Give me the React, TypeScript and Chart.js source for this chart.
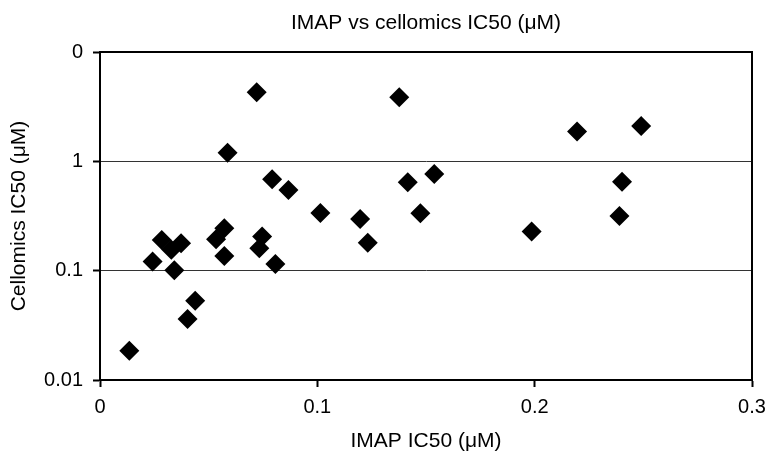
import React, { useEffect, useRef } from 'react';
import { Chart, registerables } from 'chart.js';

Chart.register(...registerables);

const imapIC50 = [
  0.0135, 0.0242, 0.0284, 0.0373, 0.0328, 0.0342, 0.0438, 0.0403, 0.0587, 0.0792,
  0.0867, 0.0572, 0.0534, 0.0572, 0.0746, 0.0733, 0.0807, 0.0721, 0.1377, 0.1416,
  0.1538, 0.1197, 0.1474, 0.1232, 0.1014, 0.2195, 0.249, 0.2402, 0.239, 0.1986,
];
const cellomicsIC50 = [
  0.0185, 0.121, 0.191, 0.178, 0.155, 0.101, 0.0531, 0.0361, 1.2, 0.686,
  0.547, 0.244, 0.194, 0.136, 0.205, 0.16, 0.115, 4.29, 3.86, 0.644,
  0.767, 0.297, 0.335, 0.18, 0.337, 1.87, 2.11, 0.652, 0.317, 0.228,
];
const xTickValues = [0, 0.1, 0.2, 0.3];
const xTickLabels = ['0', '0.1', '0.2', '0.3'];
const yTickValues = [0.01, 0.1, 1, 10];
const yTickLabels = ['0.01', '0.1', '1', '0'];

const titleText = 'IMAP vs cellomics IC50 (\u03bcM)';
const xTitle = 'IMAP IC50 (\u03bcM)';
const yTitle = 'Cellomics IC50 (\u03bcM)';

const FONT = "'Liberation Sans', Arial, sans-serif";

const framePlugin = {
  id: 'frame',
  beforeDatasetsDraw(chart: any) {
    const { ctx, chartArea } = chart;
    const { left, top, right, bottom } = chartArea;
    ctx.save();
    ctx.strokeStyle = '#000';
    ctx.lineWidth = 2;
    ctx.beginPath();
    ctx.moveTo(left, top);
    ctx.lineTo(right, top);
    ctx.lineTo(right, bottom);
    ctx.stroke();
    ctx.restore();
  },
};

export default function App() {
  const ref = useRef<HTMLCanvasElement>(null);
  useEffect(() => {
    if (!ref.current) return;
    const points = imapIC50.map((x, i) => ({ x, y: cellomicsIC50[i] }));
    const chart = new Chart(ref.current, {
      type: 'scatter',
      data: {
        datasets: [
          {
            data: points,
            pointStyle: 'rectRot',
            pointRadius: 10,
            pointHoverRadius: 10,
            backgroundColor: '#000',
            borderColor: '#000',
            borderWidth: 0,
          },
        ],
      },
      options: {
        animation: false,
        responsive: false,
        devicePixelRatio: 1,
        layout: { padding: { left: 0, right: 19, top: 0, bottom: 0 } },
        plugins: {
          legend: { display: false },
          tooltip: { enabled: false },
          title: {
            display: true,
            text: titleText,
            fullSize: false,
            color: '#000',
            font: { family: FONT, size: 21, weight: 'normal', lineHeight: 1.2 },
            padding: { top: 11, bottom: 15.8 },
          },
        },
        scales: {
          x: {
            type: 'linear',
            min: 0,
            max: 0.3,
            afterFit(scale: any) {
              scale.height = 72;
              scale.paddingLeft = 0;
              scale.paddingRight = 0;
            },
            afterBuildTicks(scale: any) {
              scale.ticks = xTickValues.map((v) => ({ value: v }));
            },
            ticks: {
              color: '#000',
              padding: 8,
              maxRotation: 0,
              font: { family: FONT, size: 20, lineHeight: 1.2 },
              callback: (_v: any, i: number) => xTickLabels[i],
            },
            grid: {
              drawOnChartArea: false,
              tickLength: 7,
              tickColor: '#000',
              tickWidth: 2,
            },
            border: { display: true, color: '#000', width: 2 },
            title: {
              display: true,
              text: xTitle,
              color: '#000',
              font: { family: FONT, size: 21, lineHeight: 1.0 },
              padding: { top: 8, bottom: 0 },
            },
          },
          y: {
            type: 'logarithmic',
            min: 0.01,
            max: 10,
            afterFit(scale: any) {
              scale.width = 100;
            },
            afterBuildTicks(scale: any) {
              scale.ticks = yTickValues.map((v) => ({ value: v, major: true }));
            },
            ticks: {
              color: '#000',
              padding: 10,
              font: { family: FONT, size: 20, lineHeight: 1.2 },
              callback: (_v: any, i: number) => yTickLabels[i],
            },
            grid: {
              drawOnChartArea: true,
              color: '#333',
              lineWidth: 1,
              tickLength: 7,
              tickColor: '#000',
              tickWidth: 2,
            },
            border: { display: true, color: '#000', width: 2 },
            title: {
              display: true,
              text: yTitle,
              color: '#000',
              font: { family: FONT, size: 21, lineHeight: 1.2 },
              padding: { top: 7, bottom: 0 },
            },
          },
        },
      },
      plugins: [framePlugin],
    });
    return () => chart.destroy();
  }, []);
  return (
    <div style={{ position: 'fixed', left: 0, top: 0, width: 771, height: 452, background: '#fff' }}>
      <canvas ref={ref} width={771} height={452} />
    </div>
  );
}
